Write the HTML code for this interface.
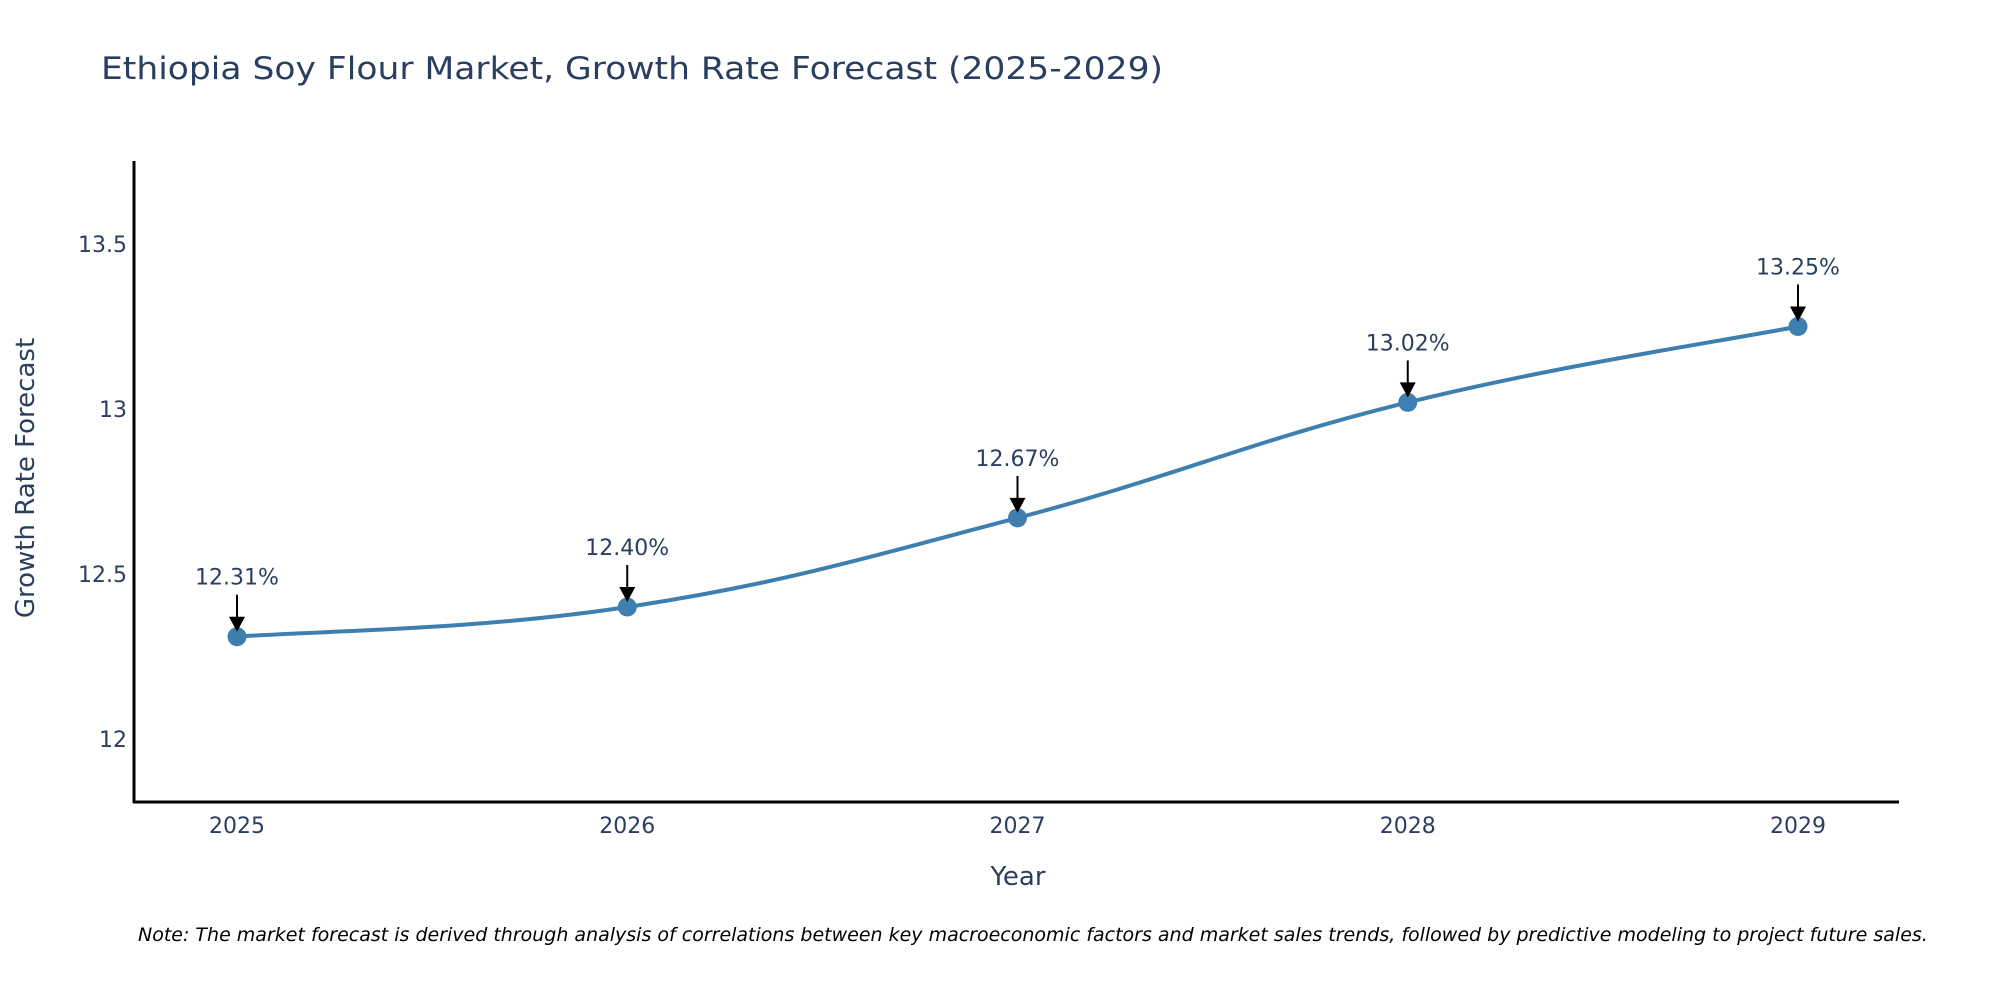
<!DOCTYPE html>
<html><head><meta charset="utf-8"><style>
html,body{margin:0;padding:0;background:#fff;}
svg{display:block;font-family:"DejaVu Sans","Liberation Sans",sans-serif;}
</style></head><body>
<svg id="chart" width="2000" height="1000" viewBox="0 0 2000 1000" xmlns="http://www.w3.org/2000/svg">
<text x="101" y="79" font-size="31" fill="#2a3f5f" textLength="1062" lengthAdjust="spacingAndGlyphs">Ethiopia Soy Flour Market, Growth Rate Forecast (2025-2029)</text>
<g id="ticks"></g>
<g id="marks"></g>
<line x1="134" y1="161" x2="134" y2="803" stroke="#000" stroke-width="3"/>
<line x1="133" y1="802" x2="1899" y2="802" stroke="#000" stroke-width="3"/>
<text x="1018" y="885" font-size="26" fill="#2a3f5f" text-anchor="middle">Year</text>
<text transform="translate(34,478) rotate(-90)" font-size="26" fill="#2a3f5f" text-anchor="middle">Growth Rate Forecast</text>
<text x="138" y="941" font-size="19" font-style="italic" fill="#000">Note: The market forecast is derived through analysis of correlations between key macroeconomic factors and market sales trends, followed by predictive modeling to project future sales.</text>
</svg>
<script>
const years = [2025, 2026, 2027, 2028, 2029];
const values = [12.31, 12.40, 12.67, 13.02, 13.25];
const valueLabels = ["12.31%", "12.40%", "12.67%", "13.02%", "13.25%"];
const yTicks = [12, 12.5, 13, 13.5];
const yTickLabels = ["12", "12.5", "13", "13.5"];

const NS = "http://www.w3.org/2000/svg";
function xScale(v){ return 237 + (v - 2025) * 390.25; }
function yScale(v){ return 739 - (v - 12) * 330; }
function mk(tag, attrs, parent){ const e = document.createElementNS(NS, tag); for (const k in attrs) e.setAttribute(k, attrs[k]); parent.appendChild(e); return e; }

const ticks = document.getElementById('ticks');
const marks = document.getElementById('marks');

yTicks.forEach((t, i) => {
  const el = mk('text', {x: 127, y: yScale(t) + 8, 'font-size': 22, fill: '#2a3f5f', 'text-anchor': 'end'}, ticks);
  
  
  el.textContent = yTickLabels[i];
});
years.forEach(y => {
  const el = mk('text', {x: xScale(y), y: 833, 'font-size': 22, fill: '#2a3f5f', 'text-anchor': 'middle'}, ticks);
  
  
  el.textContent = String(y);
});

// smooth spline (cardinal)
const pts = years.map((y, i) => [xScale(y), yScale(values[i])]);
let d = `M${pts[0][0]},${pts[0][1]}`;
const s = 0.2;
for (let i = 0; i < pts.length - 1; i++) {
  const p0 = pts[i - 1] || pts[i], p1 = pts[i], p2 = pts[i + 1], p3 = pts[i + 2] || p2;
  const c1 = [p1[0] + (p2[0] - p0[0]) * s, p1[1] + (p2[1] - p0[1]) * s];
  const c2 = [p2[0] - (p3[0] - p1[0]) * s, p2[1] - (p3[1] - p1[1]) * s];
  d += ` C${c1[0]},${c1[1]} ${c2[0]},${c2[1]} ${p2[0]},${p2[1]}`;
}
const line = mk('path', {d: d, fill: 'none', stroke: '#3f7fb0', 'stroke-width': 4}, marks);



pts.forEach((p, i) => {
  const c = mk('circle', {cx: p[0], cy: p[1], r: 9.5, fill: '#3f7fb0'}, marks);
  
  
  const a = mk('line', {x1: p[0], y1: p[1] - 42, x2: p[0], y2: p[1] - 18, stroke: '#000', 'stroke-width': 2}, marks);
  
  
  const h = mk('path', {d: `M${p[0]-8},${p[1]-20} L${p[0]+8},${p[1]-20} L${p[0]},${p[1]-5} Z`, fill: '#000'}, marks);
  
  
  const t = mk('text', {x: p[0], y: p[1] - 52, 'font-size': 22, fill: '#2a3f5f', 'text-anchor': 'middle'}, marks);
  
  
  t.textContent = valueLabels[i];
});
</script>
</body></html>
